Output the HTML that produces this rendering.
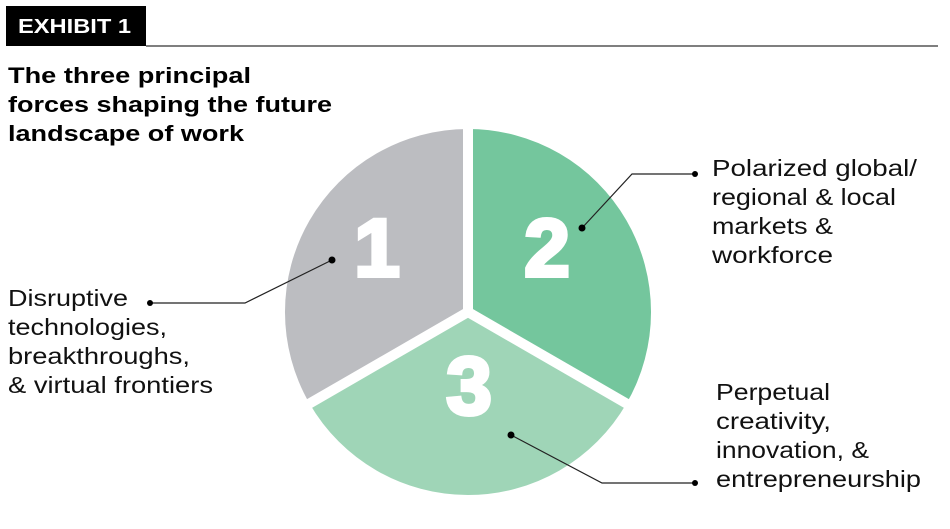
<!DOCTYPE html>
<html><head><meta charset="utf-8"><style>
html,body{margin:0;padding:0;background:#fff;}
svg{display:block;}
</style></head><body>
<svg width="950" height="529" viewBox="0 0 950 529" xmlns="http://www.w3.org/2000/svg" font-family="Liberation Sans, sans-serif">
<rect x="6" y="6" width="140" height="40" fill="#000"/>
<text x="18" y="33" fill="#fff" font-weight="bold" font-size="20" textLength="113" lengthAdjust="spacingAndGlyphs">EXHIBIT 1</text>
<line x1="146" y1="46" x2="938" y2="46" stroke="#333" stroke-width="1.2"/>
<g font-weight="bold" font-size="22" fill="#000">
<text x="8" y="83" textLength="243" lengthAdjust="spacingAndGlyphs">The three principal</text>
<text x="8" y="112" textLength="324" lengthAdjust="spacingAndGlyphs">forces shaping the future</text>
<text x="8" y="141" textLength="236" lengthAdjust="spacingAndGlyphs">landscape of work</text>
</g>
<path d="M468,312 L468,129 A183,183 0 0 0 309.5,403.5 Z" fill="#bcbdc1"/>
<path d="M468,312 L468,129 A183,183 0 0 1 626.5,403.5 Z" fill="#74c69d"/>
<path d="M468,312 L626.5,403.5 A183,183 0 0 1 309.5,403.5 Z" fill="#9fd5b7"/>
<g stroke="#fff" stroke-width="10">
<line x1="468" y1="312" x2="468" y2="120"/>
<line x1="468" y1="312" x2="300" y2="409"/>
<line x1="468" y1="312" x2="636" y2="409"/>
</g>
<g fill="#fff" stroke="#fff" stroke-width="4" font-weight="bold" font-size="82" text-anchor="middle">
<text x="377" y="276">1</text>
<text x="547" y="276">2</text>
<text x="469" y="414">3</text>
</g>
<g stroke="#222" stroke-width="1.2" fill="none">
<polyline points="332,260 245,303 150,303"/>
<polyline points="582,228 632,174 695,174"/>
<polyline points="511,435 602,483 695,483"/>
</g>
<g fill="#000">
<circle cx="332" cy="260" r="3.5"/><circle cx="150" cy="303" r="3"/>
<circle cx="582" cy="228" r="3.5"/><circle cx="695" cy="174" r="3"/>
<circle cx="511" cy="435" r="3.5"/><circle cx="695" cy="483" r="3"/>
</g>
<g font-size="23" fill="#111">
<text x="8" y="306" textLength="120" lengthAdjust="spacingAndGlyphs">Disruptive</text>
<text x="8" y="335" textLength="159" lengthAdjust="spacingAndGlyphs">technologies,</text>
<text x="8" y="364" textLength="182" lengthAdjust="spacingAndGlyphs">breakthroughs,</text>
<text x="8" y="393" textLength="205" lengthAdjust="spacingAndGlyphs">&amp; virtual frontiers</text>
<text x="712" y="176" textLength="205" lengthAdjust="spacingAndGlyphs">Polarized global/</text>
<text x="712" y="205" textLength="184" lengthAdjust="spacingAndGlyphs">regional &amp; local</text>
<text x="712" y="234" textLength="121" lengthAdjust="spacingAndGlyphs">markets &amp;</text>
<text x="712" y="263" textLength="121" lengthAdjust="spacingAndGlyphs">workforce</text>
<text x="716" y="400" textLength="114" lengthAdjust="spacingAndGlyphs">Perpetual</text>
<text x="716" y="429" textLength="115" lengthAdjust="spacingAndGlyphs">creativity,</text>
<text x="716" y="458" textLength="153" lengthAdjust="spacingAndGlyphs">innovation, &amp;</text>
<text x="716" y="487" textLength="205" lengthAdjust="spacingAndGlyphs">entrepreneurship</text>
</g>
</svg>
</body></html>
